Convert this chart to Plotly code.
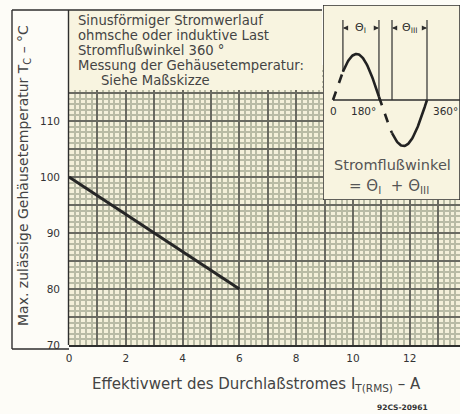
import numpy as np
import plotly.graph_objects as go

# ---- data ----
current_A = [0, 6]               # I_T(RMS) in A
case_temp_C = [100, 80]          # max. case temperature in °C

# inset: conduction angles (degrees) and axis labels
theta_I = [38, 176]
theta_III = [226, 360]
inset_label_angles = [0, 115, 429]
inset_label_texts = ["0", "180°", "360°"]

W, H = 460, 414
L, R, T, B = 69, 0, 5, 69
PW, PH = W - L - R, H - T - B


def px(xp):
    return (xp - L) / PW


def py(yp):
    return (H - B - yp) / PH


INK = "#2e2e2e"
TXT = "#444444"
CREAM = "#f4f0da"
MAJOR = "#6a6a62"
MINOR = "#b9bba5"
FONT = "DejaVu Sans"

fig = go.Figure()

# main curve
fig.add_trace(go.Scatter(x=current_A, y=case_temp_C, mode="lines",
                         line=dict(color="#262626", width=3),
                         xaxis="x", yaxis="y", showlegend=False, hoverinfo="skip"))


# inset sine, split into conduction (solid) and non-conduction (dashed) parts
def seg(a0, a1, dash):
    ang = np.linspace(a0, a1, 60)
    fig.add_trace(go.Scatter(x=ang, y=np.sin(np.radians(ang)), mode="lines",
                             line=dict(color="#222222", width=2.6, dash=dash),
                             xaxis="x2", yaxis="y2", showlegend=False, hoverinfo="skip"))


seg(0, theta_I[0], "dash")
seg(theta_I[0], theta_I[1], "solid")
seg(theta_I[1], theta_III[0], "dash")
seg(theta_III[0], theta_III[1], "solid")

x2_lo = -10 / 94 * 360
x2_hi = 127 / 94 * 360
y2_lo = (100 - 200) / 46
y2_hi = (100 - 5) / 46
arr_y = (100 - 28) / 46

shapes = []
# inset panel background (in inset subplot, drawn over main grid)
shapes.append(dict(type="rect", xref="x2", yref="y2", x0=x2_lo, x1=x2_hi, y0=y2_lo, y1=y2_hi,
                   fillcolor="#f8f4e0", line=dict(color=INK, width=1.5), layer="below"))
# inset axis line
shapes.append(dict(type="line", xref="x2", yref="y2", x0=0, x1=x2_hi, y0=0, y1=0,
                   line=dict(color=INK, width=1.5), layer="below"))
# conduction limit lines
top_v = (100 - 20) / 46
for a in [theta_I[0], theta_I[1], theta_III[0], theta_III[1]]:
    yb = float(np.sin(np.radians(a))) if a == theta_I[0] else 0
    shapes.append(dict(type="line", xref="x2", yref="y2", x0=a, x1=a, y0=yb, y1=top_v,
                       line=dict(color=INK, width=1.2), layer="below"))

# text box (top left)
shapes.append(dict(type="rect", xref="paper", yref="paper", x0=px(68), x1=px(322), y0=py(90), y1=py(10),
                   fillcolor="#f8f4e0", line=dict(width=0), layer="above"))
# frame lines
frame = [((12, 10), (322, 10)), ((12, 10), (12, 349)), ((12, 349), (69, 349)), ((68.5, 10), (68.5, 345))]
for (xa, ya), (xb, yb) in frame:
    shapes.append(dict(type="line", xref="paper", yref="paper", x0=px(xa), x1=px(xb), y0=py(ya), y1=py(yb),
                       line=dict(color=INK, width=1.4), layer="above"))

annotations = []
box_lines = [
    ("Sinusförmiger Stromwerlauf", 77, 20.5),
    ("ohmsche oder induktive Last", 77, 35.5),
    ("Stromflußwinkel 360 °", 77, 50.5),
    ("Messung der Gehäusetemperatur:", 77, 65.5),
    ("Siehe Maßskizze", 100, 80.5),
]
for txt, xx, yy in box_lines:
    annotations.append(dict(text=txt, xref="paper", yref="paper", x=px(xx), y=py(yy),
                            xanchor="left", yanchor="middle", showarrow=False, borderpad=0,
                            font=dict(family=FONT, size=13.2, color=TXT)))

# y-axis title
annotations.append(dict(text="Max. zulässige Gehäusetemperatur T<sub>C</sub> – °C",
                        xref="paper", yref="paper", x=px(24), y=py(176), textangle=-90,
                        xanchor="center", yanchor="middle", showarrow=False,
                        font=dict(family=FONT, size=14, color=TXT)))
# x-axis title
annotations.append(dict(text="Effektivwert des Durchlaßstromes I<sub>T(RMS)</sub> – A",
                        xref="paper", yref="paper", x=px(256), y=py(384),
                        xanchor="center", yanchor="middle", showarrow=False,
                        font=dict(family=FONT, size=15, color=TXT)))
# figure code
annotations.append(dict(text="<b>92CS-20961</b>", xref="paper", yref="paper", x=px(402), y=py(407),
                        xanchor="center", yanchor="middle", showarrow=False,
                        font=dict(family=FONT, size=7.5, color="#333333")))

# inset labels
for a, lab in zip(inset_label_angles, inset_label_texts):
    annotations.append(dict(text=lab, xref="x2", yref="y2", x=a, y=(100 - 111) / 46,
                            xanchor="center", yanchor="middle", showarrow=False,
                            font=dict(family=FONT, size=10.5, color=INK)))
annotations.append(dict(text="Stromflußwinkel", xref="paper", yref="paper", x=px(392), y=py(165),
                        xanchor="center", yanchor="middle", showarrow=False,
                        font=dict(family=FONT, size=14.5, color="#555555")))
annotations.append(dict(text="= Θ<sub>I</sub>  + Θ<sub>III</sub>", xref="paper", yref="paper",
                        x=px(389), y=py(186), xanchor="center", yanchor="middle", showarrow=False,
                        font=dict(family=FONT, size=15, color="#555555")))
# theta arrows |<- Θ ->|
for (a0, a1), lab in [(theta_I, "Θ<sub>I</sub>"), (theta_III, "Θ<sub>III</sub>")]:
    mid = (a0 + a1) / 2
    annotations.append(dict(text=lab, xref="x2", yref="y2", x=mid, y=arr_y, showarrow=False,
                            xanchor="center", yanchor="middle",
                            font=dict(family=FONT, size=11, color=INK)))
    for end, tail in [(a0, a0 + 24), (a1, a1 - 24)]:
        annotations.append(dict(text="", xref="x2", yref="y2", x=end, y=arr_y,
                                ax=tail, ay=arr_y, axref="x2", ayref="y2", showarrow=True,
                                arrowhead=2, arrowsize=0.8, arrowwidth=1.3, arrowcolor=INK))

tickfont = dict(family=FONT, size=10.5, color="#333333")

fig.update_layout(
    width=W, height=H,
    margin=dict(l=L, r=R, t=T, b=B),
    paper_bgcolor="#fdfcf7",
    plot_bgcolor=CREAM,
    showlegend=False,
    shapes=shapes,
    annotations=annotations,
    xaxis=dict(range=[0, PW / 28.4], domain=[0, 1], tick0=0, dtick=1, ticklabelstep=2,
               showgrid=True, gridcolor=MAJOR, gridwidth=1.8,
               minor=dict(dtick=0.2, showgrid=True, gridcolor=MINOR, gridwidth=1.5),
               showline=True, linecolor=INK, linewidth=1.5, zeroline=False,
               ticks="", ticklabelstandoff=3, tickfont=tickfont, fixedrange=True),
    yaxis=dict(range=[70, 119.99], domain=[0, 280 / PH], tick0=70, dtick=5, ticklabelstep=2,
               showgrid=True, gridcolor=MAJOR, gridwidth=1.8,
               minor=dict(dtick=1, showgrid=True, gridcolor=MINOR, gridwidth=1.5),
               showline=False, zeroline=False, ticks="", ticklabelstandoff=8,
               tickfont=tickfont, fixedrange=True),
    xaxis2=dict(range=[x2_lo, x2_hi], domain=[px(323), 1], anchor="y2",
                showgrid=False, zeroline=False, showticklabels=False, showline=False, fixedrange=True),
    yaxis2=dict(range=[y2_lo, y2_hi], domain=[py(200), 1], anchor="x2",
                showgrid=False, zeroline=False, showticklabels=False, showline=False, fixedrange=True),
)

fig.write_html("out.html", config={"displayModeBar": False},
               post_script="document.body.style.margin='0';")
